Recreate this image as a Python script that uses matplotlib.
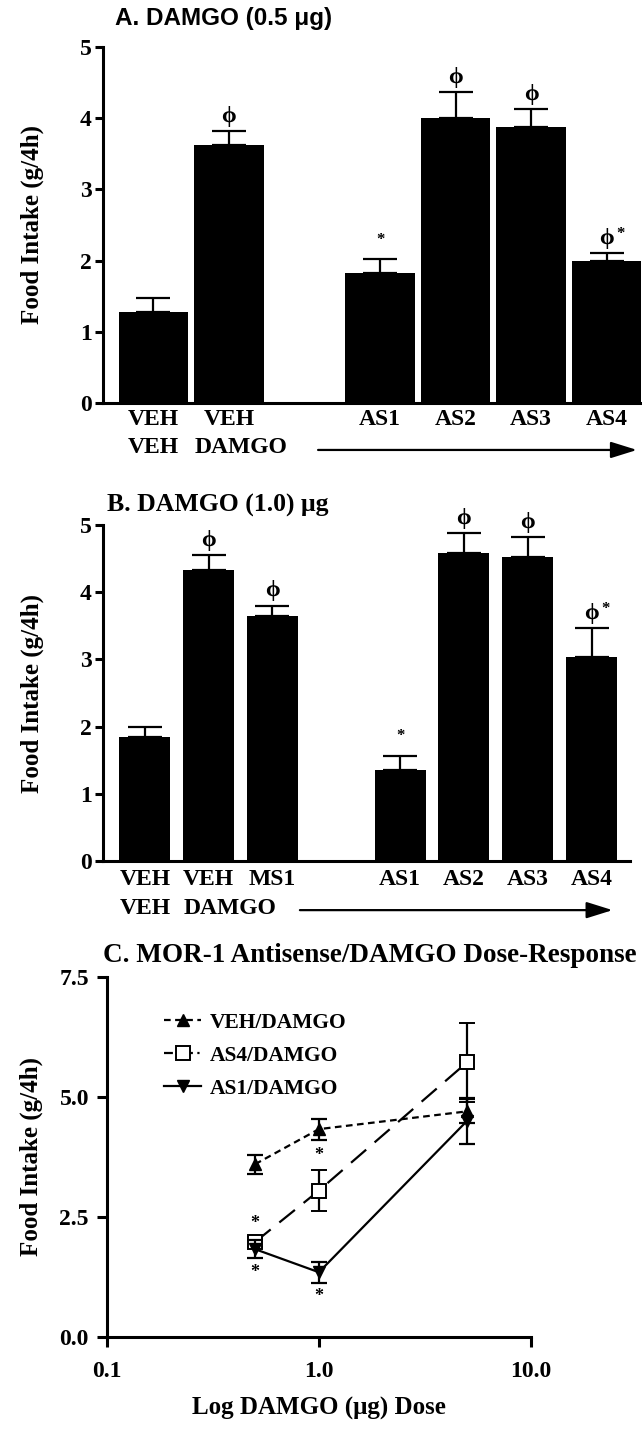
import numpy as np
import matplotlib
matplotlib.use("Agg")
import matplotlib.pyplot as plt
from matplotlib.lines import Line2D

plt.rcParams['font.family'] = ['Liberation Serif', 'DejaVu Serif']
plt.rcParams['font.weight'] = 'bold'
plt.rcParams['axes.labelweight'] = 'bold'
plt.rcParams['axes.linewidth'] = 2.2

# panel A data (DAMGO 0.5 ug)
a_labels = ["VEH", "VEH", "AS1", "AS2", "AS3", "AS4"]
a_labels2 = ["VEH", "DAMGO", "", "", "", ""]
a_mean = [1.28, 3.62, 1.83, 4.00, 3.87, 2.00]
a_sem = [0.20, 0.20, 0.19, 0.37, 0.26, 0.10]
a_marks = ["", "ϕ", "*", "ϕ", "ϕ", "ϕ*"]

# panel B data (DAMGO 1.0 ug)
b_labels = ["VEH", "VEH", "MS1", "AS1", "AS2", "AS3", "AS4"]
b_labels2 = ["VEH", "DAMGO", "", "", "", "", ""]
b_mean = [1.85, 4.33, 3.65, 1.35, 4.58, 4.52, 3.03]
b_sem = [0.15, 0.22, 0.15, 0.22, 0.30, 0.30, 0.43]
b_marks = ["", "ϕ", "ϕ", "*", "ϕ", "ϕ", "ϕ*"]

# panel C data (dose response)
dose = [0.5, 1.0, 5.0]
veh_mean = [3.60, 4.33, 4.70]
veh_sem = [0.20, 0.22, 0.25]
as4_mean = [1.98, 3.05, 5.72]
as4_sem = [0.10, 0.43, 0.83]
as1_mean = [1.83, 1.35, 4.50]
as1_sem = [0.19, 0.22, 0.48]

fig = plt.figure(figsize=(6.42, 14.32), dpi=100)


def bar_panel(ax, labels, labels2, mean, sem, marks, n_ctrl, width, xlim, arrow_x, arrow_y, pad, row2_y):
    n = len(mean)
    pos = np.array([i if i < n_ctrl else i + 1 for i in range(n)], dtype=float)
    ax.bar(pos, mean, width, color='black', zorder=2)
    ax.errorbar(pos, mean, yerr=[np.zeros(n), sem], fmt='none', ecolor='black',
                elinewidth=1.6, capsize=12, capthick=1.6, zorder=1)
    for p, m, s, mk in zip(pos, mean, sem, marks):
        if mk == "":
            continue
        top = m + s
        if mk[0] == "ϕ":
            ax.annotate("ϕ", (p, top), xytext=(0, 3), textcoords='offset points',
                        ha='center', va='bottom', fontsize=17)
        if "*" in mk:
            dx = 10 if mk[0] == "ϕ" else 0
            ax.annotate("*", (p, top), xytext=(dx, 8), textcoords='offset points',
                        ha='center', va='bottom', fontsize=12)
    ax.set_xlim(*xlim)
    ax.set_ylim(0, 5)
    ax.set_yticks(range(6))
    ax.set_xticks(pos)
    ax.set_xticklabels(labels, fontsize=17)
    ax.tick_params(axis='x', length=0, pad=pad)
    ax.tick_params(axis='y', direction='out', length=6, width=2.2, labelsize=17, pad=2)
    for p, t in zip(pos, labels2):
        if t == "":
            continue
        if t == "VEH":
            ax.text(p, row2_y, t, transform=ax.get_xaxis_transform(), ha='center', va='center', fontsize=17)
        else:
            ax.text(p - width / 2, row2_y, t, transform=ax.get_xaxis_transform(), ha='left', va='center',
                    fontsize=17)
    ax.annotate("", xy=(arrow_x[1], arrow_y), xytext=(arrow_x[0], arrow_y),
                xycoords=('data', 'axes fraction'), textcoords=('data', 'axes fraction'),
                arrowprops=dict(arrowstyle='-|>,head_length=1.6,head_width=0.5', color='black',
                                lw=1.6, shrinkA=0, shrinkB=0), annotation_clip=False)
    ax.spines['top'].set_visible(False)
    ax.spines['right'].set_visible(False)
    ax.set_ylabel("Food Intake (g/4h)", fontsize=18)


axA = fig.add_axes([0.160, 0.7186, 0.838, 0.2486])
bar_panel(axA, a_labels, a_labels2, a_mean, a_sem, a_marks, 2, 0.92, (-0.67, 6.45), (2.18, 6.4), -0.132,
          4, -0.124)
axA.yaxis.set_label_coords(-0.11, 0.5)
fig.text(115 / 642, 1 - 18 / 1432, "A. DAMGO (0.5 μg)", family=['Liberation Sans', 'DejaVu Sans'],
         fontsize=17.5, weight='bold', ha='left', va='center')

axB = fig.add_axes([0.160, 0.3987, 0.821, 0.2347])
bar_panel(axB, b_labels, b_labels2, b_mean, b_sem, b_marks, 3, 0.80, (-0.66, 7.6), (2.43, 7.33), -0.146,
          6, -0.142)
axB.yaxis.set_label_coords(-0.112, 0.5)
fig.text(107 / 642, 1 - 505 / 1432, "B. DAMGO (1.0) μg", fontsize=18.5, weight='bold', ha='left', va='center')

# panel C
axC = fig.add_axes([0.1667, 0.0663, 0.660, 0.2515])
ls_veh = (0, (3, 2))
ls_as4 = (0, (9, 5))
axC.errorbar(dose, veh_mean, yerr=veh_sem, color='black', ls=ls_veh, lw=1.6, marker='^', ms=9,
             mfc='black', mec='black', capsize=6, elinewidth=1.6, capthick=1.6, zorder=3)
axC.errorbar(dose, as4_mean, yerr=as4_sem, color='black', ls=ls_as4, lw=1.6, marker='s', ms=10,
             mfc='white', mec='black', mew=1.4, capsize=6, elinewidth=1.6, capthick=1.6, zorder=2)
axC.errorbar(dose, as1_mean, yerr=as1_sem, color='black', ls='-', lw=1.6, marker='v', ms=9,
             mfc='black', mec='black', capsize=6, elinewidth=1.6, capthick=1.6, zorder=4)
# significance stars
for i in [0, 1]:
    axC.annotate("*", (dose[i], as4_mean[i] + as4_sem[i]), xytext=(0, 4), textcoords='offset points',
                 ha='center', va='bottom', fontsize=13)
    axC.annotate("*", (dose[i], as1_mean[i] - as1_sem[i]), xytext=(0, -4), textcoords='offset points',
                 ha='center', va='top', fontsize=13)
axC.set_xscale('log')
axC.set_xlim(0.1, 10)
axC.set_ylim(0, 7.5)
axC.set_xticks([0.1, 1, 10])
axC.set_xticklabels(["0.1", "1.0", "10.0"])
axC.xaxis.set_minor_locator(matplotlib.ticker.NullLocator())
axC.set_yticks([0, 2.5, 5.0, 7.5])
axC.set_yticklabels(["0.0", "2.5", "5.0", "7.5"])
axC.tick_params(direction='out', length=7, width=2.2, labelsize=17, pad=6)
axC.tick_params(axis='x', pad=10)
axC.spines['top'].set_visible(False)
axC.spines['right'].set_visible(False)
axC.set_ylabel("Food Intake (g/4h)", fontsize=18)
axC.yaxis.set_label_coords(-0.15, 0.5)
axC.set_xlabel("Log DAMGO (μg) Dose", fontsize=18, labelpad=11)
handles = [
    Line2D([], [], color='black', ls=ls_veh, lw=1.6, marker='^', ms=9, mfc='black'),
    Line2D([], [], color='black', ls=(0, (4, 2, 1, 2)), lw=1.6, marker='s', ms=10, mfc='white', mew=1.4),
    Line2D([], [], color='black', ls='-', lw=1.6, marker='v', ms=9, mfc='black'),
]
axC.legend(handles, ["VEH/DAMGO", "AS4/DAMGO", "AS1/DAMGO"], loc='upper left',
           bbox_to_anchor=(0.115, 0.925), frameon=False, fontsize=15.5,
           handlelength=1.7, handletextpad=0.4, labelspacing=0.6, borderaxespad=0.0)
fig.text(103 / 642, 1 - 955 / 1432, "C. MOR-1 Antisense/DAMGO Dose-Response", fontsize=19.5,
         weight='bold', ha='left', va='center')

fig.savefig("out.png", dpi=100)
